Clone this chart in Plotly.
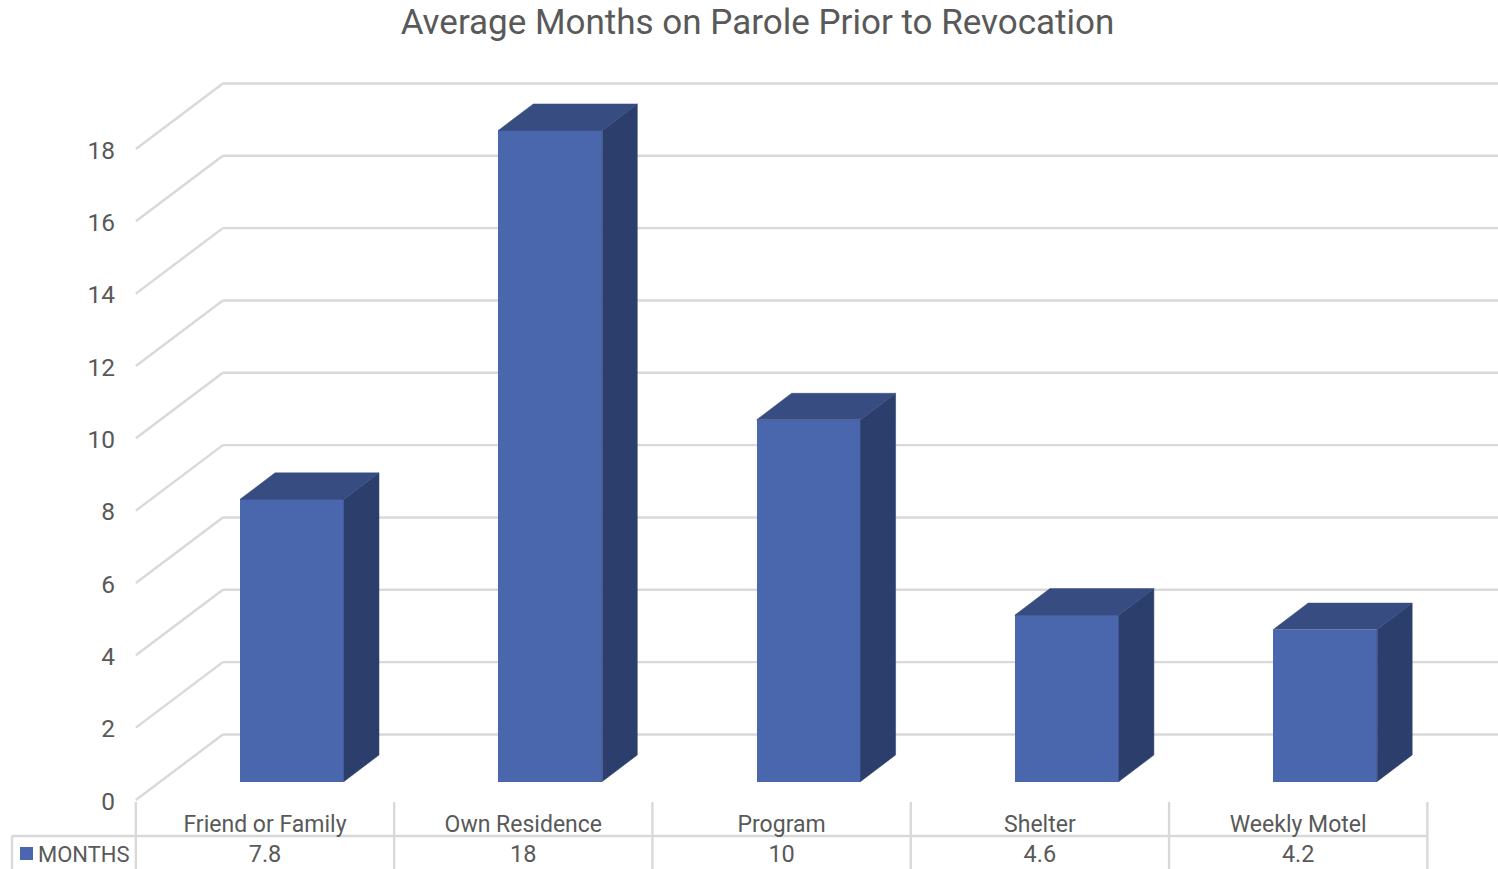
import plotly.graph_objects as go

# ---- data ----
title = "Average Months on Parole Prior to Revocation"
categories = ["Friend or Family", "Own Residence", "Program", "Shelter", "Weekly Motel"]
months = [7.8, 18, 10, 4.6, 4.2]
months_text = ["7.8", "18", "10", "4.6", "4.2"]
series_name = "MONTHS"
y_ticks = [0, 2, 4, 6, 8, 10, 12, 14, 16, 18]

# ---- geometry in axis units (x: one category = 1, y: one month = 1) ----
PX_X = 258.3            # px per category
PX_Y = 36.17            # px per month
W, H = 1498, 869
X0_PX, Y0_PX = 265, 800  # pixel of x=0, y=0
FONT = "Roboto"
TXT = "#595959"
GRID = "#D9D9D9"
FRONT, SIDE, TOP = "#4A66AC", "#2C3F6C", "#374D81"

wall_dx = 87 / PX_X      # left wall depth
wall_dy = 65.5 / PX_Y
bar_w = 104 / PX_X
bar_shift = 27 / PX_X    # front face centre vs. category centre
bar_base = 18.5 / PX_Y   # front face floor above axis zero
depth_dx = 35 / PX_X
depth_dy = 26.5 / PX_Y

x_lo = -0.5              # table / wall left edge
x_min = -X0_PX / PX_X
x_hi = (W - X0_PX) / PX_X
y_lo = (Y0_PX - H) / PX_Y
y_hi = Y0_PX / PX_Y
row1 = (Y0_PX - 836) / PX_Y      # table horizontal rule
row_top = (Y0_PX - 802) / PX_Y   # top of table verticals
text1 = (Y0_PX - 826) / PX_Y
text2 = (Y0_PX - 856) / PX_Y
key_y = (Y0_PX - 853.5) / PX_Y
tbl_left = (12 - X0_PX) / PX_X
n = len(categories)

fig = go.Figure()


def line(xs, ys, width=2.4):
    fig.add_trace(go.Scatter(x=xs, y=ys, mode="lines", cliponaxis=False, hoverinfo="skip",
                             showlegend=False, line=dict(color=GRID, width=width)))


# walls: diagonal + back line for each tick, under the bars
for t in y_ticks:
    fig.add_shape(type="line", layer="below", x0=x_lo, y0=t, x1=x_lo + wall_dx, y1=t + wall_dy,
                  line=dict(color=GRID, width=2.4))
    fig.add_shape(type="line", layer="below", x0=x_lo + wall_dx, y0=t + wall_dy, x1=x_hi, y1=t + wall_dy,
                  line=dict(color=GRID, width=2.4))

# bar side + top faces, from values
for i, v in enumerate(months):
    cx = i + bar_shift
    l, r = cx - bar_w / 2, cx + bar_w / 2
    b, t = bar_base, bar_base + v
    fig.add_trace(go.Scatter(x=[r, r + depth_dx, r + depth_dx, r, r],
                             y=[b, b + depth_dy, t + depth_dy, t, b],
                             mode="lines", fill="toself", fillcolor=SIDE, hoverinfo="skip",
                             line=dict(color=SIDE, width=0.5), showlegend=False))
    fig.add_trace(go.Scatter(x=[l, l + depth_dx, r + depth_dx, r, l],
                             y=[t, t + depth_dy, t + depth_dy, t, t],
                             mode="lines", fill="toself", fillcolor=TOP, hoverinfo="skip",
                             line=dict(color=TOP, width=0.5), showlegend=False))

# bar front faces
fig.add_trace(go.Bar(x=[i + bar_shift for i in range(n)], y=months, base=bar_base, width=bar_w,
                     marker=dict(color=FRONT, line=dict(width=0)), name=series_name,
                     customdata=categories, showlegend=False,
                     hovertemplate="%{customdata}: %{y}<extra></extra>"))

# data table rules
for i in range(n + 1):
    line([x_lo + i, x_lo + i], [row_top, y_lo])
line([tbl_left, x_lo + n], [row1, row1])
line([tbl_left, tbl_left], [row1, y_lo])

# data table text
fig.add_trace(go.Scatter(x=list(range(n)), y=[text1] * n, text=categories, mode="text",
                         textposition="middle center", cliponaxis=False, hoverinfo="skip",
                         textfont=dict(family=FONT, size=23, color=TXT), showlegend=False))
fig.add_trace(go.Scatter(x=list(range(n)), y=[text2] * n, text=months_text, mode="text",
                         textposition="middle center", cliponaxis=False, hoverinfo="skip",
                         textfont=dict(family=FONT, size=23.5, color=TXT), showlegend=False))
fig.add_trace(go.Scatter(x=[(38 - X0_PX) / PX_X], y=[text2], text=[series_name], mode="text",
                         textposition="middle right", cliponaxis=False, hoverinfo="skip",
                         textfont=dict(family=FONT, size=22, color=TXT), showlegend=False))
fig.add_trace(go.Scatter(x=[(26.5 - X0_PX) / PX_X], y=[key_y], mode="markers", cliponaxis=False,
                         hoverinfo="skip", showlegend=False,
                         marker=dict(symbol="square", size=13, color=FRONT, line=dict(width=0))))

fig.update_layout(
    width=W, height=H, autosize=False,
    margin=dict(l=0, r=0, t=0, b=0),
    paper_bgcolor="white", plot_bgcolor="white",
    showlegend=False, bargap=0,
    title=dict(text=title, x=757.5 / W, xanchor="center", y=1 - 22 / H, yanchor="middle",
               font=dict(family=FONT, size=35, color=TXT)),
    xaxis=dict(range=[x_min, x_hi], showgrid=False, zeroline=False, showline=False,
               showticklabels=False, ticks=""),
    yaxis=dict(range=[y_lo, y_hi], showgrid=False, zeroline=False, showline=False,
               anchor="free", position=(X0_PX + x_lo * PX_X) / W,
               tickmode="array", tickvals=y_ticks, ticktext=[str(t) for t in y_ticks],
               ticks="outside", ticklen=16, tickcolor="rgba(0,0,0,0)", ticklabelshift=1,
               tickfont=dict(family=FONT, size=24.5, color=TXT)),
)

fig.write_html("out.html", config=dict(displayModeBar=False),
               post_script="document.body.style.margin='0';document.documentElement.style.overflow='hidden';")
